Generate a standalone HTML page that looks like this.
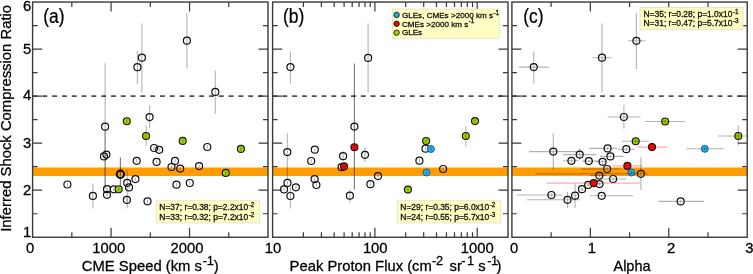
<!DOCTYPE html>
<html><head><meta charset="utf-8"><style>
html,body{margin:0;padding:0;background:#fff;}
body{width:753px;height:274px;overflow:hidden;}
svg{display:block;font-family:"Liberation Sans", sans-serif;will-change:transform;}
</style></head><body>
<svg width="753" height="274" viewBox="0 0 753 274">
<rect width="753" height="274" fill="#fff"/>
<rect x="32.6" y="167.5" width="235.40" height="8.5" fill="#ff9c00"/>
<line x1="32.6" y1="96.13" x2="268.0" y2="96.13" stroke="#505050" stroke-width="1.7" stroke-dasharray="4.9 4.9"/>
<rect x="272.6" y="167.5" width="235.40" height="8.5" fill="#ff9c00"/>
<line x1="272.6" y1="96.13" x2="508.0" y2="96.13" stroke="#505050" stroke-width="1.7" stroke-dasharray="4.9 4.9"/>
<rect x="511.9" y="167.5" width="235.30" height="8.5" fill="#ff9c00"/>
<line x1="511.9" y1="96.13" x2="747.2" y2="96.13" stroke="#505050" stroke-width="1.7" stroke-dasharray="4.9 4.9"/>
<path d="M186.9 13.1V68.6" stroke="rgba(0,0,0,0.30)" stroke-width="1.1" fill="none"/>
<circle cx="186.9" cy="40.7" r="3.5" fill="none" stroke="#111" stroke-width="1.2"/>
<path d="M141.9 23.4V92.6" stroke="rgba(0,0,0,0.30)" stroke-width="1.1" fill="none"/>
<circle cx="141.9" cy="57.7" r="3.5" fill="none" stroke="#111" stroke-width="1.2"/>
<path d="M137.4 51V83.7" stroke="rgba(0,0,0,0.30)" stroke-width="1.1" fill="none"/>
<circle cx="137.4" cy="67.2" r="3.5" fill="none" stroke="#111" stroke-width="1.2"/>
<path d="M215.3 70.7V113.7" stroke="rgba(0,0,0,0.30)" stroke-width="1.1" fill="none"/>
<circle cx="215.3" cy="91.9" r="3.5" fill="none" stroke="#111" stroke-width="1.2"/>
<path d="M105.1 63.2V189" stroke="rgba(0,0,0,0.30)" stroke-width="1.1" fill="none"/>
<circle cx="105.1" cy="126.7" r="3.5" fill="none" stroke="#111" stroke-width="1.2"/>
<path d="M105.1 130V188" stroke="rgba(0,0,0,0.30)" stroke-width="1.1" fill="none"/>
<circle cx="126.8" cy="121.3" r="3.5" fill="#9ad600"/>
<path d="M126.8 119.6V123.0" stroke="rgba(0,0,0,0.30)" stroke-width="1.1" fill="none"/>
<circle cx="126.8" cy="121.3" r="3.5" fill="none" stroke="#151515" stroke-width="1.1"/>
<path d="M149.6 105V128" stroke="rgba(0,0,0,0.30)" stroke-width="1.1" fill="none"/>
<circle cx="149.6" cy="117.1" r="3.5" fill="none" stroke="#111" stroke-width="1.2"/>
<circle cx="146.1" cy="136.0" r="3.5" fill="#9ad600"/>
<path d="M146.1 125.5V146" stroke="rgba(0,0,0,0.30)" stroke-width="1.1" fill="none"/>
<circle cx="146.1" cy="136.0" r="3.5" fill="none" stroke="#151515" stroke-width="1.1"/>
<path d="M154.1 146.3V149.7" stroke="rgba(0,0,0,0.30)" stroke-width="1.1" fill="none"/>
<circle cx="154.1" cy="148.0" r="3.5" fill="none" stroke="#111" stroke-width="1.2"/>
<path d="M159.2 148.10000000000002V151.5" stroke="rgba(0,0,0,0.30)" stroke-width="1.1" fill="none"/>
<circle cx="159.2" cy="149.8" r="3.5" fill="none" stroke="#111" stroke-width="1.2"/>
<circle cx="182.7" cy="140.9" r="3.5" fill="#9ad600"/>
<path d="M182.7 139.20000000000002V142.6" stroke="rgba(0,0,0,0.30)" stroke-width="1.1" fill="none"/>
<circle cx="182.7" cy="140.9" r="3.5" fill="none" stroke="#151515" stroke-width="1.1"/>
<path d="M207.3 145.3V148.7" stroke="rgba(0,0,0,0.30)" stroke-width="1.1" fill="none"/>
<circle cx="207.3" cy="147.0" r="3.5" fill="none" stroke="#111" stroke-width="1.2"/>
<circle cx="240.9" cy="148.9" r="3.5" fill="#9ad600"/>
<path d="M240.9 147.20000000000002V150.6" stroke="rgba(0,0,0,0.30)" stroke-width="1.1" fill="none"/>
<circle cx="240.9" cy="148.9" r="3.5" fill="none" stroke="#151515" stroke-width="1.1"/>
<path d="M104.0 154.70000000000002V158.1" stroke="rgba(0,0,0,0.30)" stroke-width="1.1" fill="none"/>
<circle cx="104.0" cy="156.4" r="3.5" fill="none" stroke="#111" stroke-width="1.2"/>
<path d="M106.4 152.9V156.29999999999998" stroke="rgba(0,0,0,0.30)" stroke-width="1.1" fill="none"/>
<circle cx="106.4" cy="154.6" r="3.5" fill="none" stroke="#111" stroke-width="1.2"/>
<path d="M136.7 159.10000000000002V162.5" stroke="rgba(0,0,0,0.30)" stroke-width="1.1" fill="none"/>
<circle cx="136.7" cy="160.8" r="3.5" fill="none" stroke="#111" stroke-width="1.2"/>
<path d="M156.6 160.20000000000002V163.6" stroke="rgba(0,0,0,0.30)" stroke-width="1.1" fill="none"/>
<circle cx="156.6" cy="161.9" r="3.5" fill="none" stroke="#111" stroke-width="1.2"/>
<path d="M175.0 159.20000000000002V162.6" stroke="rgba(0,0,0,0.30)" stroke-width="1.1" fill="none"/>
<circle cx="175.0" cy="160.9" r="3.5" fill="none" stroke="#111" stroke-width="1.2"/>
<path d="M171.5 165.3V168.7" stroke="rgba(0,0,0,0.30)" stroke-width="1.1" fill="none"/>
<circle cx="171.5" cy="167.0" r="3.5" fill="none" stroke="#111" stroke-width="1.2"/>
<path d="M180.2 166.9V170.29999999999998" stroke="rgba(0,0,0,0.30)" stroke-width="1.1" fill="none"/>
<circle cx="180.2" cy="168.6" r="3.5" fill="none" stroke="#111" stroke-width="1.2"/>
<path d="M199.1 164.4V167.79999999999998" stroke="rgba(0,0,0,0.30)" stroke-width="1.1" fill="none"/>
<circle cx="199.1" cy="166.1" r="3.5" fill="none" stroke="#111" stroke-width="1.2"/>
<circle cx="225.8" cy="172.9" r="3.5" fill="#9ad600"/>
<path d="M225.8 171.20000000000002V174.6" stroke="rgba(0,0,0,0.30)" stroke-width="1.1" fill="none"/>
<circle cx="225.8" cy="172.9" r="3.5" fill="none" stroke="#151515" stroke-width="1.1"/>
<path d="M120.4 157.5V186.5" stroke="rgba(0,0,0,0.30)" stroke-width="1.1" fill="none"/>
<path d="M120.4 157.5V186.5" stroke="rgba(0,0,0,0.30)" stroke-width="1.1" fill="none"/>
<circle cx="120.4" cy="174.3" r="3.7" fill="none" stroke="#000" stroke-width="2.0"/>
<path d="M67.4 182.8V186.2" stroke="rgba(0,0,0,0.30)" stroke-width="1.1" fill="none"/>
<circle cx="67.4" cy="184.5" r="3.5" fill="none" stroke="#111" stroke-width="1.2"/>
<path d="M92.9 183.5V208.5" stroke="rgba(0,0,0,0.30)" stroke-width="1.1" fill="none"/>
<circle cx="92.9" cy="195.9" r="3.5" fill="none" stroke="#111" stroke-width="1.2"/>
<path d="M107.0 187.5V190.89999999999998" stroke="rgba(0,0,0,0.30)" stroke-width="1.1" fill="none"/>
<circle cx="107.0" cy="189.2" r="3.5" fill="none" stroke="#111" stroke-width="1.2"/>
<path d="M107.0 193.10000000000002V196.5" stroke="rgba(0,0,0,0.30)" stroke-width="1.1" fill="none"/>
<circle cx="107.0" cy="194.8" r="3.5" fill="none" stroke="#111" stroke-width="1.2"/>
<path d="M113.8 187.60000000000002V191.0" stroke="rgba(0,0,0,0.30)" stroke-width="1.1" fill="none"/>
<circle cx="113.8" cy="189.3" r="3.5" fill="none" stroke="#111" stroke-width="1.2"/>
<circle cx="118.7" cy="189.3" r="3.5" fill="#9ad600"/>
<path d="M118.7 187.60000000000002V191.0" stroke="rgba(0,0,0,0.30)" stroke-width="1.1" fill="none"/>
<circle cx="118.7" cy="189.3" r="3.5" fill="none" stroke="#151515" stroke-width="1.1"/>
<path d="M127.2 170V208.3" stroke="rgba(0,0,0,0.30)" stroke-width="1.1" fill="none"/>
<circle cx="127.2" cy="182.8" r="3.5" fill="none" stroke="#111" stroke-width="1.2"/>
<path d="M129.0 185.70000000000002V189.1" stroke="rgba(0,0,0,0.30)" stroke-width="1.1" fill="none"/>
<circle cx="129.0" cy="187.4" r="3.5" fill="none" stroke="#111" stroke-width="1.2"/>
<path d="M135.4 177.4V180.79999999999998" stroke="rgba(0,0,0,0.30)" stroke-width="1.1" fill="none"/>
<circle cx="135.4" cy="179.1" r="3.5" fill="none" stroke="#111" stroke-width="1.2"/>
<path d="M126.9 198.20000000000002V201.6" stroke="rgba(0,0,0,0.30)" stroke-width="1.1" fill="none"/>
<circle cx="126.9" cy="199.9" r="3.5" fill="none" stroke="#111" stroke-width="1.2"/>
<path d="M147.5 199.60000000000002V203.0" stroke="rgba(0,0,0,0.30)" stroke-width="1.1" fill="none"/>
<circle cx="147.5" cy="201.3" r="3.5" fill="none" stroke="#111" stroke-width="1.2"/>
<path d="M176.5 183.0V186.39999999999998" stroke="rgba(0,0,0,0.30)" stroke-width="1.1" fill="none"/>
<circle cx="176.5" cy="184.7" r="3.5" fill="none" stroke="#111" stroke-width="1.2"/>
<path d="M189.8 181.3V184.7" stroke="rgba(0,0,0,0.30)" stroke-width="1.1" fill="none"/>
<circle cx="189.8" cy="183.0" r="3.5" fill="none" stroke="#111" stroke-width="1.2"/>
<path d="M290.4 51.5V83.4" stroke="rgba(0,0,0,0.30)" stroke-width="1.1" fill="none"/>
<circle cx="290.4" cy="67.1" r="3.5" fill="none" stroke="#111" stroke-width="1.2"/>
<path d="M368.1 23.5V92.4" stroke="rgba(0,0,0,0.30)" stroke-width="1.1" fill="none"/>
<circle cx="368.1" cy="57.9" r="3.5" fill="none" stroke="#111" stroke-width="1.2"/>
<path d="M354.4 63.5V189.6" stroke="rgba(0,0,0,0.30)" stroke-width="1.1" fill="none"/>
<circle cx="354.4" cy="126.6" r="3.5" fill="none" stroke="#111" stroke-width="1.2"/>
<circle cx="354.4" cy="147.2" r="3.5" fill="#ff0000"/>
<path d="M354.4 63.5V189.6" stroke="rgba(0,0,0,0.30)" stroke-width="1.1" fill="none"/>
<circle cx="354.4" cy="147.2" r="3.5" fill="none" stroke="#151515" stroke-width="1.1"/>
<path d="M343.1 151V161" stroke="rgba(0,0,0,0.30)" stroke-width="1.1" fill="none"/>
<circle cx="343.1" cy="156.2" r="3.5" fill="none" stroke="#111" stroke-width="1.2"/>
<path d="M365.0 147.3V161.8" stroke="rgba(0,0,0,0.30)" stroke-width="1.1" fill="none"/>
<circle cx="365.0" cy="154.8" r="3.5" fill="none" stroke="#111" stroke-width="1.2"/>
<path d="M341.6 165.5V168.89999999999998" stroke="rgba(0,0,0,0.30)" stroke-width="1.1" fill="none"/>
<circle cx="341.6" cy="167.2" r="3.5" fill="none" stroke="#111" stroke-width="1.2"/>
<circle cx="344.0" cy="166.4" r="3.5" fill="#ff0000"/>
<path d="M344.0 164.70000000000002V168.1" stroke="rgba(0,0,0,0.30)" stroke-width="1.1" fill="none"/>
<circle cx="344.0" cy="166.4" r="3.5" fill="none" stroke="#151515" stroke-width="1.1"/>
<path d="M378.0 174.4V177.79999999999998" stroke="rgba(0,0,0,0.30)" stroke-width="1.1" fill="none"/>
<circle cx="378.0" cy="176.1" r="3.5" fill="none" stroke="#111" stroke-width="1.2"/>
<path d="M370.4 182.5V185.89999999999998" stroke="rgba(0,0,0,0.30)" stroke-width="1.1" fill="none"/>
<circle cx="370.4" cy="184.2" r="3.5" fill="none" stroke="#111" stroke-width="1.2"/>
<path d="M349.9 189.6V202.4" stroke="rgba(0,0,0,0.30)" stroke-width="1.1" fill="none"/>
<circle cx="349.9" cy="195.7" r="3.5" fill="none" stroke="#111" stroke-width="1.2"/>
<path d="M287.3 133.2V180" stroke="rgba(0,0,0,0.30)" stroke-width="1.1" fill="none"/>
<circle cx="287.3" cy="152.1" r="3.5" fill="none" stroke="#111" stroke-width="1.2"/>
<path d="M314.8 148.0V151.39999999999998" stroke="rgba(0,0,0,0.30)" stroke-width="1.1" fill="none"/>
<circle cx="314.8" cy="149.7" r="3.5" fill="none" stroke="#111" stroke-width="1.2"/>
<path d="M311.2 159.3V162.7" stroke="rgba(0,0,0,0.30)" stroke-width="1.1" fill="none"/>
<circle cx="311.2" cy="161.0" r="3.5" fill="none" stroke="#111" stroke-width="1.2"/>
<path d="M314.6 177.4V180.79999999999998" stroke="rgba(0,0,0,0.30)" stroke-width="1.1" fill="none"/>
<circle cx="314.6" cy="179.1" r="3.5" fill="none" stroke="#111" stroke-width="1.2"/>
<path d="M316.4 183.3V186.7" stroke="rgba(0,0,0,0.30)" stroke-width="1.1" fill="none"/>
<circle cx="316.4" cy="185.0" r="3.5" fill="none" stroke="#111" stroke-width="1.2"/>
<path d="M287.5 181.20000000000002V184.6" stroke="rgba(0,0,0,0.30)" stroke-width="1.1" fill="none"/>
<circle cx="287.5" cy="182.9" r="3.5" fill="none" stroke="#111" stroke-width="1.2"/>
<path d="M284.0 187.70000000000002V191.1" stroke="rgba(0,0,0,0.30)" stroke-width="1.1" fill="none"/>
<circle cx="284.0" cy="189.4" r="3.5" fill="none" stroke="#111" stroke-width="1.2"/>
<path d="M295.9 185.60000000000002V189.0" stroke="rgba(0,0,0,0.30)" stroke-width="1.1" fill="none"/>
<circle cx="295.9" cy="187.3" r="3.5" fill="none" stroke="#111" stroke-width="1.2"/>
<path d="M290.4 187V208.4" stroke="rgba(0,0,0,0.30)" stroke-width="1.1" fill="none"/>
<circle cx="290.4" cy="196.0" r="3.5" fill="none" stroke="#111" stroke-width="1.2"/>
<circle cx="426.1" cy="141.0" r="3.5" fill="#9ad600"/>
<path d="M426.1 139.3V142.7" stroke="rgba(0,0,0,0.30)" stroke-width="1.1" fill="none"/>
<circle cx="426.1" cy="141.0" r="3.5" fill="none" stroke="#151515" stroke-width="1.1"/>
<path d="M425.5 147.0V150.39999999999998" stroke="rgba(0,0,0,0.30)" stroke-width="1.1" fill="none"/>
<circle cx="425.5" cy="148.7" r="3.5" fill="none" stroke="#111" stroke-width="1.2"/>
<circle cx="430.9" cy="149.0" r="3.5" fill="#20b2f6"/>
<path d="M430.9 147.3V150.7" stroke="rgba(0,0,0,0.30)" stroke-width="1.1" fill="none"/>
<circle cx="430.9" cy="149.0" r="3.5" fill="none" stroke="#17608e" stroke-width="1.0"/>
<path d="M419.4 159.0V162.39999999999998" stroke="rgba(0,0,0,0.30)" stroke-width="1.1" fill="none"/>
<circle cx="419.4" cy="160.7" r="3.5" fill="none" stroke="#111" stroke-width="1.2"/>
<circle cx="426.5" cy="172.5" r="3.5" fill="#20b2f6"/>
<path d="M426.5 170.8V174.2" stroke="rgba(0,0,0,0.30)" stroke-width="1.1" fill="none"/>
<circle cx="426.5" cy="172.5" r="3.5" fill="none" stroke="#17608e" stroke-width="1.0"/>
<path d="M443.1 167.3V170.7" stroke="rgba(0,0,0,0.30)" stroke-width="1.1" fill="none"/>
<circle cx="443.1" cy="169.0" r="3.5" fill="none" stroke="#111" stroke-width="1.2"/>
<circle cx="407.9" cy="189.6" r="3.5" fill="#9ad600"/>
<path d="M407.9 187.9V191.29999999999998" stroke="rgba(0,0,0,0.30)" stroke-width="1.1" fill="none"/>
<circle cx="407.9" cy="189.6" r="3.5" fill="none" stroke="#151515" stroke-width="1.1"/>
<circle cx="475.0" cy="121.1" r="3.5" fill="#9ad600"/>
<path d="M475.0 119.39999999999999V122.8" stroke="rgba(0,0,0,0.30)" stroke-width="1.1" fill="none"/>
<circle cx="475.0" cy="121.1" r="3.5" fill="none" stroke="#151515" stroke-width="1.1"/>
<circle cx="465.8" cy="136.0" r="3.5" fill="#9ad600"/>
<path d="M465.8 126V146.4" stroke="rgba(0,0,0,0.30)" stroke-width="1.1" fill="none"/>
<circle cx="465.8" cy="136.0" r="3.5" fill="none" stroke="#151515" stroke-width="1.1"/>
<path d="M519 67.1H548.8M533.8 51.5V83.4" stroke="rgba(0,0,0,0.30)" stroke-width="1.1" fill="none"/>
<circle cx="533.8" cy="67.1" r="3.5" fill="none" stroke="#111" stroke-width="1.2"/>
<path d="M592.4 57.7H611.5M602.0 23.5V92.6" stroke="rgba(0,0,0,0.30)" stroke-width="1.1" fill="none"/>
<circle cx="602.0" cy="57.7" r="3.5" fill="none" stroke="#111" stroke-width="1.2"/>
<path d="M628 40.8H645.2M636.4 13V69" stroke="rgba(0,0,0,0.30)" stroke-width="1.1" fill="none"/>
<circle cx="636.4" cy="40.8" r="3.5" fill="none" stroke="#111" stroke-width="1.2"/>
<path d="M607.7 117.0H640.5M623.9 105V128.6" stroke="rgba(0,0,0,0.30)" stroke-width="1.1" fill="none"/>
<circle cx="623.9" cy="117.0" r="3.5" fill="none" stroke="#111" stroke-width="1.2"/>
<circle cx="665.2" cy="121.5" r="3.5" fill="#9ad600"/>
<path d="M645.1 121.5H684.7M665.2 119.8V123.2" stroke="rgba(0,0,0,0.30)" stroke-width="1.1" fill="none"/>
<circle cx="665.2" cy="121.5" r="3.5" fill="none" stroke="#151515" stroke-width="1.1"/>
<circle cx="635.7" cy="141.3" r="3.5" fill="#9ad600"/>
<path d="M621.5 141.3H649M635.7 139.60000000000002V143.0" stroke="rgba(0,0,0,0.30)" stroke-width="1.1" fill="none"/>
<circle cx="635.7" cy="141.3" r="3.5" fill="none" stroke="#151515" stroke-width="1.1"/>
<circle cx="738.3" cy="136.0" r="3.5" fill="#9ad600"/>
<path d="M718.3 136.0H747M738.3 125.5V145.5" stroke="rgba(0,0,0,0.30)" stroke-width="1.1" fill="none"/>
<circle cx="738.3" cy="136.0" r="3.5" fill="none" stroke="#151515" stroke-width="1.1"/>
<circle cx="704.8" cy="148.8" r="3.5" fill="#20b2f6"/>
<path d="M686.4 148.8H723.4M704.8 147.10000000000002V150.5" stroke="rgba(0,0,0,0.30)" stroke-width="1.1" fill="none"/>
<circle cx="704.8" cy="148.8" r="3.5" fill="none" stroke="#17608e" stroke-width="1.0"/>
<circle cx="652.0" cy="147.1" r="3.5" fill="#ff0000"/>
<path d="M637.4 147.1H667.7M652.0 145.4V148.79999999999998" stroke="rgba(255,0,0,0.33)" stroke-width="1.1" fill="none"/>
<circle cx="652.0" cy="147.1" r="3.5" fill="none" stroke="#151515" stroke-width="1.1"/>
<path d="M589.2 148.4H617M607.6 146.70000000000002V150.1" stroke="rgba(0,0,0,0.30)" stroke-width="1.1" fill="none"/>
<circle cx="607.6" cy="148.4" r="3.5" fill="none" stroke="#111" stroke-width="1.2"/>
<path d="M618 149.2H634.7M626.3 147.5V150.89999999999998" stroke="rgba(0,0,0,0.30)" stroke-width="1.1" fill="none"/>
<circle cx="626.3" cy="149.2" r="3.5" fill="none" stroke="#111" stroke-width="1.2"/>
<path d="M529 151.6H576.5M553.3 133.5V169.5" stroke="rgba(0,0,0,0.30)" stroke-width="1.1" fill="none"/>
<circle cx="553.3" cy="151.6" r="3.5" fill="none" stroke="#111" stroke-width="1.2"/>
<path d="M562.8 154.6H596.5M579.7 148V160" stroke="rgba(0,0,0,0.30)" stroke-width="1.1" fill="none"/>
<circle cx="579.7" cy="154.6" r="3.5" fill="none" stroke="#111" stroke-width="1.2"/>
<path d="M563 160.8H579M571.4 159.10000000000002V162.5" stroke="rgba(0,0,0,0.30)" stroke-width="1.1" fill="none"/>
<circle cx="571.4" cy="160.8" r="3.5" fill="none" stroke="#111" stroke-width="1.2"/>
<path d="M582 161.1H598.7M588.8 159.4V162.79999999999998" stroke="rgba(0,0,0,0.30)" stroke-width="1.1" fill="none"/>
<circle cx="588.8" cy="161.1" r="3.5" fill="none" stroke="#111" stroke-width="1.2"/>
<path d="M600 156.4H623.7M610.4 154.70000000000002V158.1" stroke="rgba(0,0,0,0.30)" stroke-width="1.1" fill="none"/>
<circle cx="610.4" cy="156.4" r="3.5" fill="none" stroke="#111" stroke-width="1.2"/>
<path d="M596 161.8H606M602.6 160.10000000000002V163.5" stroke="rgba(0,0,0,0.30)" stroke-width="1.1" fill="none"/>
<circle cx="602.6" cy="161.8" r="3.5" fill="none" stroke="#111" stroke-width="1.2"/>
<circle cx="627.4" cy="165.9" r="3.5" fill="#ff0000"/>
<path d="M612.8 165.9H642M627.4 164.20000000000002V167.6" stroke="rgba(255,0,0,0.33)" stroke-width="1.1" fill="none"/>
<circle cx="627.4" cy="165.9" r="3.5" fill="none" stroke="#151515" stroke-width="1.1"/>
<path d="M581.4 169.0H620M607.1 167.3V170.7" stroke="rgba(0,0,0,0.30)" stroke-width="1.1" fill="none"/>
<circle cx="607.1" cy="169.0" r="3.5" fill="none" stroke="#111" stroke-width="1.2"/>
<circle cx="631.4" cy="172.5" r="3.5" fill="#20b2f6"/>
<path d="M629.6999999999999 172.5H633.1M631.4 170.8V174.2" stroke="rgba(0,0,0,0.30)" stroke-width="1.1" fill="none"/>
<circle cx="631.4" cy="172.5" r="3.5" fill="none" stroke="#17608e" stroke-width="1.0"/>
<path d="M535.3 173.8H648M640.9 157.3V190" stroke="rgba(0,0,0,0.30)" stroke-width="1.1" fill="none"/>
<circle cx="640.9" cy="173.8" r="3.5" fill="none" stroke="#111" stroke-width="1.2"/>
<path d="M600 179.0H626.5M613.1 177.3V180.7" stroke="rgba(0,0,0,0.30)" stroke-width="1.1" fill="none"/>
<circle cx="613.1" cy="179.0" r="3.5" fill="none" stroke="#111" stroke-width="1.2"/>
<path d="M590 175.6H606M599.3 173.9V177.29999999999998" stroke="rgba(0,0,0,0.30)" stroke-width="1.1" fill="none"/>
<circle cx="599.3" cy="175.6" r="3.5" fill="none" stroke="#111" stroke-width="1.2"/>
<path d="M597.8 184.1H601.2M599.5 182.4V185.79999999999998" stroke="rgba(0,0,0,0.30)" stroke-width="1.1" fill="none"/>
<circle cx="599.5" cy="184.1" r="3.5" fill="none" stroke="#111" stroke-width="1.2"/>
<path d="M586.5 184.9H589.9000000000001M588.2 183.20000000000002V186.6" stroke="rgba(0,0,0,0.30)" stroke-width="1.1" fill="none"/>
<circle cx="588.2" cy="184.9" r="3.5" fill="none" stroke="#111" stroke-width="1.2"/>
<path d="M580.3 189.2H583.7M582.0 187.5V190.89999999999998" stroke="rgba(0,0,0,0.30)" stroke-width="1.1" fill="none"/>
<circle cx="582.0" cy="189.2" r="3.5" fill="none" stroke="#111" stroke-width="1.2"/>
<circle cx="593.7" cy="183.1" r="3.5" fill="#ff0000"/>
<path d="M547 183.1H640M593.7 181.4V184.79999999999998" stroke="rgba(255,0,0,0.33)" stroke-width="1.1" fill="none"/>
<circle cx="593.7" cy="183.1" r="3.5" fill="none" stroke="#151515" stroke-width="1.1"/>
<path d="M573.4 195.7H576.8000000000001M575.1 183.6V208" stroke="rgba(0,0,0,0.30)" stroke-width="1.1" fill="none"/>
<circle cx="575.1" cy="195.7" r="3.5" fill="none" stroke="#111" stroke-width="1.2"/>
<path d="M590 195.8H633.2M601.7 194.10000000000002V197.5" stroke="rgba(0,0,0,0.30)" stroke-width="1.1" fill="none"/>
<circle cx="601.7" cy="195.8" r="3.5" fill="none" stroke="#111" stroke-width="1.2"/>
<path d="M516.6 195.0H562M551.4 193.3V196.7" stroke="rgba(0,0,0,0.30)" stroke-width="1.1" fill="none"/>
<circle cx="551.4" cy="195.0" r="3.5" fill="none" stroke="#111" stroke-width="1.2"/>
<path d="M527 199.8H580M567.5 191.7V208" stroke="rgba(0,0,0,0.30)" stroke-width="1.1" fill="none"/>
<circle cx="567.5" cy="199.8" r="3.5" fill="none" stroke="#111" stroke-width="1.2"/>
<path d="M658.2 201.4H703.7M680.7 199.70000000000002V203.1" stroke="rgba(0,0,0,0.30)" stroke-width="1.1" fill="none"/>
<circle cx="680.7" cy="201.4" r="3.5" fill="none" stroke="#111" stroke-width="1.2"/>
<path d="M32.6 213.73h5M268.0 213.73h-5M32.6 190.21h9.5M268.0 190.21h-9.5M32.6 166.69h5M268.0 166.69h-5M32.6 143.17h9.5M268.0 143.17h-9.5M32.6 119.65h5M268.0 119.65h-5M32.6 96.13h9.5M268.0 96.13h-9.5M32.6 72.61h5M268.0 72.61h-5M32.6 49.09h9.5M268.0 49.09h-9.5M32.6 25.57h5M268.0 25.57h-5M272.6 213.73h5M508.0 213.73h-5M272.6 190.21h9.5M508.0 190.21h-9.5M272.6 166.69h5M508.0 166.69h-5M272.6 143.17h9.5M508.0 143.17h-9.5M272.6 119.65h5M508.0 119.65h-5M272.6 96.13h9.5M508.0 96.13h-9.5M272.6 72.61h5M508.0 72.61h-5M272.6 49.09h9.5M508.0 49.09h-9.5M272.6 25.57h5M508.0 25.57h-5M511.9 213.73h5M747.2 213.73h-5M511.9 190.21h9.5M747.2 190.21h-9.5M511.9 166.69h5M747.2 166.69h-5M511.9 143.17h9.5M747.2 143.17h-9.5M511.9 119.65h5M747.2 119.65h-5M511.9 96.13h9.5M747.2 96.13h-9.5M511.9 72.61h5M747.2 72.61h-5M511.9 49.09h9.5M747.2 49.09h-9.5M511.9 25.57h5M747.2 25.57h-5M71.83 237.25v-5M71.83 2.05v5M111.07 237.25v-9.5M111.07 2.05v9.5M150.30 237.25v-5M150.30 2.05v5M189.53 237.25v-9.5M189.53 2.05v9.5M228.77 237.25v-5M228.77 2.05v5M303.40 237.25v-5M303.40 2.05v5M321.41 237.25v-5M321.41 2.05v5M334.19 237.25v-5M334.19 2.05v5M344.11 237.25v-5M344.11 2.05v5M352.21 237.25v-5M352.21 2.05v5M359.06 237.25v-5M359.06 2.05v5M364.99 237.25v-5M364.99 2.05v5M370.22 237.25v-5M370.22 2.05v5M374.90 237.25v-9.5M374.90 2.05v9.5M405.70 237.25v-5M405.70 2.05v5M423.71 237.25v-5M423.71 2.05v5M436.49 237.25v-5M436.49 2.05v5M446.41 237.25v-5M446.41 2.05v5M454.51 237.25v-5M454.51 2.05v5M461.36 237.25v-5M461.36 2.05v5M467.29 237.25v-5M467.29 2.05v5M472.52 237.25v-5M472.52 2.05v5M477.20 237.25v-9.5M477.20 2.05v9.5M551.12 237.25v-5M551.12 2.05v5M590.33 237.25v-9.5M590.33 2.05v9.5M629.55 237.25v-5M629.55 2.05v5M668.77 237.25v-9.5M668.77 2.05v9.5M707.98 237.25v-5M707.98 2.05v5" stroke="#3a3a3a" stroke-width="1.2" fill="none"/>
<rect x="32.6" y="2.05" width="235.40" height="235.20" fill="none" stroke="#3a3a3a" stroke-width="1.4"/>
<rect x="272.6" y="2.05" width="235.40" height="235.20" fill="none" stroke="#3a3a3a" stroke-width="1.4"/>
<rect x="511.9" y="2.05" width="235.30" height="235.20" fill="none" stroke="#3a3a3a" stroke-width="1.4"/>
<rect x="156.2" y="200.7" width="103.5" height="22.200000000000017" fill="#ffffc4" stroke="#e2e2c0" stroke-width="0.8"/>
<text x="159.3" y="209.8" font-size="8.45" fill="#111" stroke="#111" stroke-width="0.3">N=37; r=0.38; p=2.2x10<tspan font-size="6.3" dx="0.5" dy="-3.1">-2</tspan></text>
<text x="159.3" y="219.6" font-size="8.45" fill="#111" stroke="#111" stroke-width="0.3">N=33; r=0.32; p=7.2x10<tspan font-size="6.3" dx="0.5" dy="-3.1">-2</tspan></text>
<rect x="397.4" y="200.7" width="102.90000000000003" height="22.200000000000017" fill="#ffffc4" stroke="#e2e2c0" stroke-width="0.8"/>
<text x="400.29999999999995" y="209.8" font-size="8.45" fill="#111" stroke="#111" stroke-width="0.3">N=29; r=0.35; p=6.0x10<tspan font-size="6.3" dx="0.5" dy="-3.1">-2</tspan></text>
<text x="400.29999999999995" y="219.6" font-size="8.45" fill="#111" stroke="#111" stroke-width="0.3">N=24; r=0.55; p=5.7x10<tspan font-size="6.3" dx="0.5" dy="-3.1">-3</tspan></text>
<rect x="640.0" y="7.4" width="103.0" height="22.0" fill="#ffffc4" stroke="#e2e2c0" stroke-width="0.8"/>
<text x="643.5" y="16.8" font-size="8.45" fill="#111" stroke="#111" stroke-width="0.3">N=35; r=0.28; p=1.0x10<tspan font-size="6.3" dx="0.5" dy="-3.1">-1</tspan></text>
<text x="643.5" y="26.3" font-size="8.45" fill="#111" stroke="#111" stroke-width="0.3">N=31; r=0.47; p=5.7x10<tspan font-size="6.3" dx="0.5" dy="-3.1">-3</tspan></text>
<rect x="392.5" y="9.1" width="106.69999999999999" height="29.1" fill="#ffffc4" stroke="#e2e2c0" stroke-width="0.8"/>
<circle cx="396.6" cy="14.9" r="2.7" fill="#20b2f6" stroke="#111" stroke-width="0.9"/>
<circle cx="396.6" cy="23.8" r="2.7" fill="#ff0000" stroke="#111" stroke-width="0.9"/>
<circle cx="396.6" cy="32.7" r="2.7" fill="#9ad600" stroke="#111" stroke-width="0.9"/>
<text x="401.9" y="17.6" font-size="8.1" fill="#111" stroke="#111" stroke-width="0.3">GLEs, CMEs &gt;2000 km s<tspan font-size="6.3" dx="0.5" dy="-3.1">-1</tspan></text>
<text x="401.9" y="26.5" font-size="8.1" fill="#111" stroke="#111" stroke-width="0.3">CMEs &gt;2000 km s<tspan font-size="6.3" dx="0.5" dy="-3.1">-1</tspan></text>
<text x="401.9" y="35.4" font-size="8.1" fill="#111" stroke="#111" stroke-width="0.3">GLEs</text>
<text x="0" y="0" font-size="21.0" fill="#000" stroke="#000" stroke-width="0.25" transform="translate(43.22 22.8) scale(0.83 1)">(a)</text>
<text x="0" y="0" font-size="21.0" fill="#000" stroke="#000" stroke-width="0.25" transform="translate(282.92 22.8) scale(0.83 1)">(b)</text>
<text x="0" y="0" font-size="21.0" fill="#000" stroke="#000" stroke-width="0.25" transform="translate(523.22 22.8) scale(0.83 1)">(c)</text>
<g fill="#000" stroke="#000" stroke-width="0.28">
<text x="31.2" y="237.3" font-size="14.8" text-anchor="end">1</text>
<text x="31.2" y="195.0" font-size="14.8" text-anchor="end">2</text>
<text x="31.2" y="147.6" font-size="14.8" text-anchor="end">3</text>
<text x="31.2" y="100.3" font-size="14.8" text-anchor="end">4</text>
<text x="31.2" y="53.7" font-size="14.8" text-anchor="end">5</text>
<text x="31.2" y="10.6" font-size="14.8" text-anchor="end">6</text>
<text x="26.04" y="253.4" font-size="14.8">0</text>
<text x="92.37" y="253.4" font-size="14.8">1000</text>
<text x="170.61" y="253.4" font-size="14.8">2000</text>
<text x="264.80" y="253.4" font-size="14.8">10</text>
<text x="362.88" y="253.4" font-size="14.8">100</text>
<text x="460.87" y="253.4" font-size="14.8">1000</text>
<text x="509.94" y="253.4" font-size="14.8">0</text>
<text x="587.84" y="253.4" font-size="14.8">1</text>
<text x="666.94" y="253.4" font-size="14.8">2</text>
<text x="745.23" y="253.4" font-size="14.8">3</text>
<text x="81.85" y="270.8" font-size="14.8">CME Speed (km s</text>
<text x="202.74" y="265.4" font-size="12.8">-</text>
<text x="206.63" y="265.4" font-size="12.8">1</text>
<text x="213.71" y="270.8" font-size="14.8">)</text>
<text x="289.59" y="270.8" font-size="14.8">Peak Proton Flux (cm</text>
<text x="432.04" y="265.4" font-size="12.8">-</text>
<text x="435.96" y="265.4" font-size="12.8">2</text>
<text x="449.49" y="270.8" font-size="14.8">sr</text>
<text x="461.34" y="265.4" font-size="12.8">-</text>
<text x="467.03" y="265.4" font-size="12.8">1</text>
<text x="478.29" y="270.8" font-size="14.8">s</text>
<text x="487.14" y="265.4" font-size="12.8">-</text>
<text x="491.03" y="265.4" font-size="12.8">1</text>
<text x="496.61" y="270.8" font-size="14.8">)</text>
<text x="613.47" y="270.7" font-size="14.5">Alpha</text>
<text x="0" y="0" font-size="14.85" transform="translate(11 231.77) rotate(-90)">Inferred Shock Compression Ratio</text>
</g>
</svg>
</body></html>
